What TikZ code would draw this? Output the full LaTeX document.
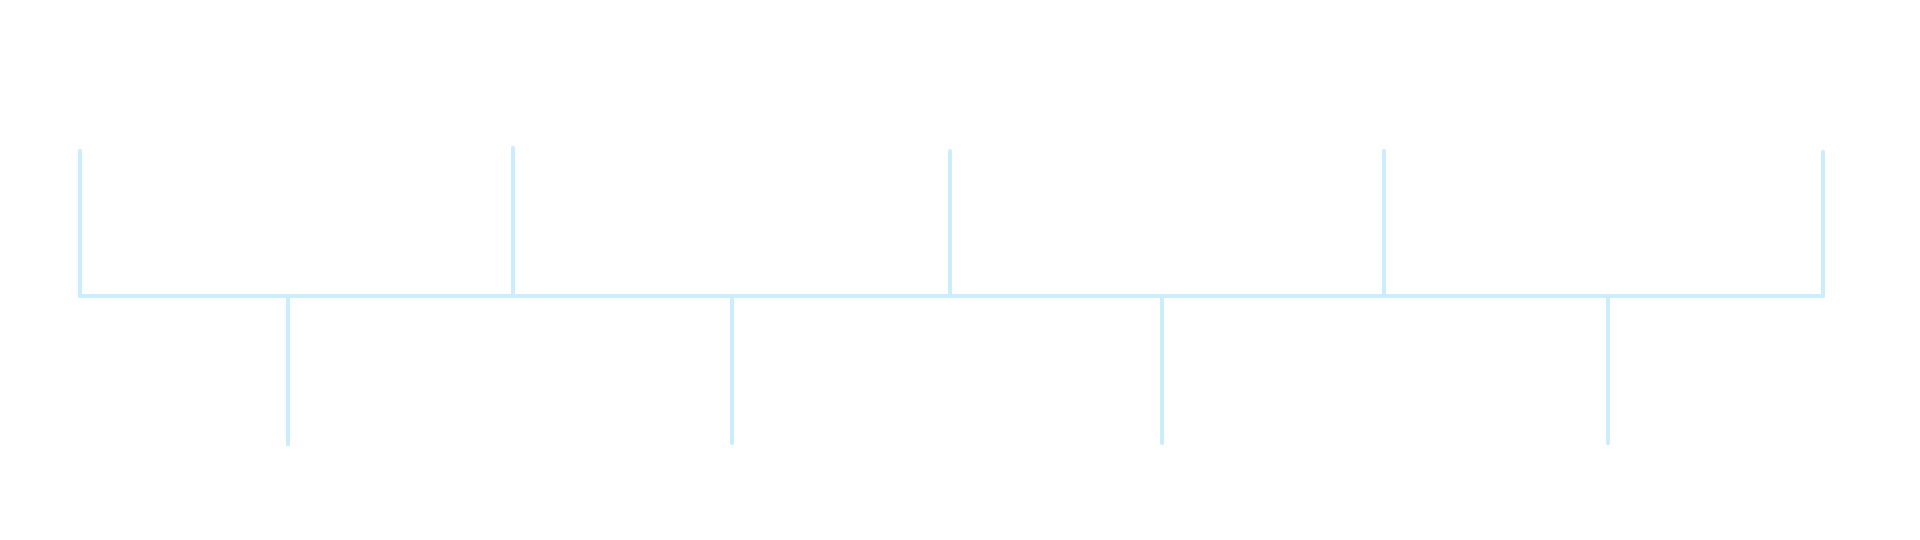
\documentclass[tikz,border=0pt]{standalone}
\usetikzlibrary{positioning}
\definecolor{tlcyan}{RGB}{204,238,252}

\begin{document}
\begin{tikzpicture}[x=1pt, y=1pt,
  tline/.style={draw=tlcyan, line width=4.5pt, line cap=round}]
  \useasboundingbox (0,0) rectangle (1920,540);
  % spine
  \coordinate (start) at (80,244);
  \coordinate (stop) at (1823,244);
  % ticks above
  \coordinate (up1) at (80,389);
  \coordinate (up2) at (513,392);
  \coordinate (up3) at (950,389);
  \coordinate (up4) at (1384,389);
  \coordinate (up5) at (1823,388);
  % ticks below
  \coordinate (dn1) at (288,96);
  \coordinate (dn2) at (732,97);
  \coordinate (dn3) at (1162,97);
  \coordinate (dn4) at (1608,97);

  \draw[tline, line join=miter] (up1) -- (start) -- (stop) -- (up5);
  \draw[tline] (up2) -- (up2 |- start);
  \draw[tline] (up3) -- (up3 |- start);
  \draw[tline] (up4) -- (up4 |- start);
  \draw[tline] (dn1 |- start) -- (dn1);
  \draw[tline] (dn2 |- start) -- (dn2);
  \draw[tline] (dn3 |- start) -- (dn3);
  \draw[tline] (dn4 |- start) -- (dn4);
\end{tikzpicture}
\end{document}
